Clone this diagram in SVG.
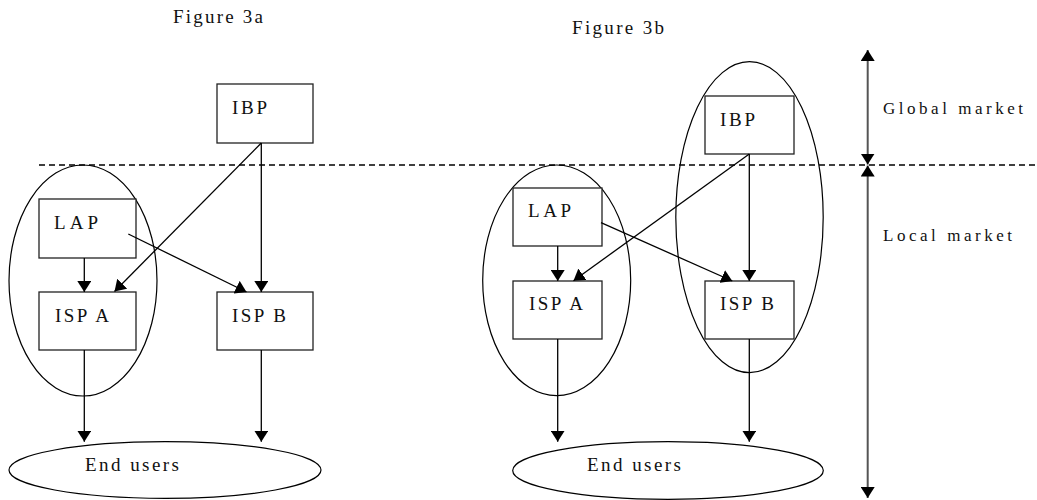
<svg xmlns="http://www.w3.org/2000/svg" width="1037" height="500" viewBox="0 0 1037 500">
  <style>
    .box { fill: #fff; stroke: #222; stroke-width: 1.3; }
    .oval { fill: none; stroke: #000; stroke-width: 1.2; }
    .lbl { font-family: "Liberation Serif", "Times New Roman", serif; font-size: 19px; fill: #111; }
    .mk { font-size: 17px; }
    .edge { stroke: #000; stroke-width: 1.3; fill: none; marker-end: url(#head); }
    .span { stroke: #555; stroke-width: 2; fill: none; marker-start: url(#head); marker-end: url(#head); }
    .divider { stroke: #000; stroke-width: 1.4; stroke-dasharray: 6 4; }
  </style>
  <defs>
    <marker id="head" viewBox="0 0 11 14" refX="11" refY="7" markerWidth="11" markerHeight="14" markerUnits="userSpaceOnUse" orient="auto-start-reverse">
      <path d="M0,0 L11,7 L0,14 z" fill="#000"/>
    </marker>
  </defs>
  <rect width="1037" height="500" fill="#fff"/>

  <!-- titles -->
  <text class="lbl" x="173" y="23" textLength="90" lengthAdjust="spacing">Figure 3a</text>
  <text class="lbl" x="572" y="34" textLength="92" lengthAdjust="spacing">Figure 3b</text>

  <!-- boundary between global and local market -->
  <line class="divider" x1="39" y1="165" x2="1037" y2="165"/>

  <!-- ===== Figure 3a ===== -->
  <g id="a-group-local">
    <ellipse class="oval" cx="83" cy="280.5" rx="74" ry="115.5"/>
  </g>
  <g id="a-ibp">
    <rect class="box" x="217" y="84" width="96" height="59"/>
    <text class="lbl" x="232" y="114" textLength="35" lengthAdjust="spacing">IBP</text>
  </g>
  <g id="a-lap">
    <rect class="box" x="39" y="199" width="97" height="59"/>
    <text class="lbl" x="54" y="229" textLength="44" lengthAdjust="spacing">LAP</text>
  </g>
  <g id="a-ispa">
    <rect class="box" x="39" y="292" width="97" height="58"/>
    <text class="lbl" x="55" y="322" textLength="54" lengthAdjust="spacing">ISP A</text>
  </g>
  <g id="a-ispb">
    <rect class="box" x="217" y="292" width="96" height="58"/>
    <text class="lbl" x="232" y="322" textLength="54" lengthAdjust="spacing">ISP B</text>
  </g>
  <g id="a-users">
    <ellipse class="oval" cx="165" cy="470" rx="156" ry="28.3"/>
    <text class="lbl" x="85" y="471" textLength="94" lengthAdjust="spacing">End users</text>
  </g>

  <!-- ===== Figure 3b ===== -->
  <g id="b-group-local">
    <ellipse class="oval" cx="556.7" cy="280.3" rx="74" ry="115.3"/>
  </g>
  <g id="b-group-global">
    <ellipse class="oval" cx="749.5" cy="217.2" rx="73.7" ry="155.5"/>
  </g>
  <g id="b-ibp">
    <rect class="box" x="705" y="96" width="89" height="58"/>
    <text class="lbl" x="720" y="126" textLength="35" lengthAdjust="spacing">IBP</text>
  </g>
  <g id="b-lap">
    <rect class="box" x="513" y="188" width="89" height="58"/>
    <text class="lbl" x="528" y="217" textLength="43" lengthAdjust="spacing">LAP</text>
  </g>
  <g id="b-ispa">
    <rect class="box" x="513" y="281" width="89" height="58"/>
    <text class="lbl" x="529" y="310" textLength="54" lengthAdjust="spacing">ISP A</text>
  </g>
  <g id="b-ispb">
    <rect class="box" x="705" y="281" width="89" height="58"/>
    <text class="lbl" x="720" y="310" textLength="54" lengthAdjust="spacing">ISP B</text>
  </g>
  <g id="b-users">
    <ellipse class="oval" cx="668" cy="470.5" rx="155.3" ry="28.8"/>
    <text class="lbl" x="587" y="471" textLength="94" lengthAdjust="spacing">End users</text>
  </g>

  <!-- market scale -->
  <g id="market-scale">
    <line class="span" x1="867.7" y1="50" x2="867.7" y2="164.5"/>
    <line class="span" x1="867.7" y1="165.5" x2="867.7" y2="498"/>
    <text class="lbl mk" x="883" y="114" textLength="140" lengthAdjust="spacing">Global market</text>
    <text class="lbl mk" x="883" y="241" textLength="129" lengthAdjust="spacing">Local market</text>
  </g>

  <!-- connectors -->
  <g id="connectors">
    <line class="edge" x1="84.3" y1="258" x2="84.3" y2="292"/>
    <line class="edge" x1="261.3" y1="143" x2="114.5" y2="291.5"/>
    <line class="edge" x1="261.3" y1="143" x2="261.3" y2="292"/>
    <line class="edge" x1="128.3" y1="234" x2="246.5" y2="292"/>
    <line class="edge" x1="84.3" y1="350" x2="84.3" y2="441.7"/>
    <line class="edge" x1="261.3" y1="350" x2="261.3" y2="441.7"/>

    <line class="edge" x1="557.7" y1="246" x2="557.7" y2="281"/>
    <line class="edge" x1="749.3" y1="154" x2="573.5" y2="280.7"/>
    <line class="edge" x1="749.3" y1="154" x2="749.3" y2="281"/>
    <line class="edge" x1="601" y1="222.7" x2="732.3" y2="281"/>
    <line class="edge" x1="557.7" y1="339" x2="557.7" y2="441.7"/>
    <line class="edge" x1="749.3" y1="339" x2="749.3" y2="441.7"/>
  </g>
</svg>
